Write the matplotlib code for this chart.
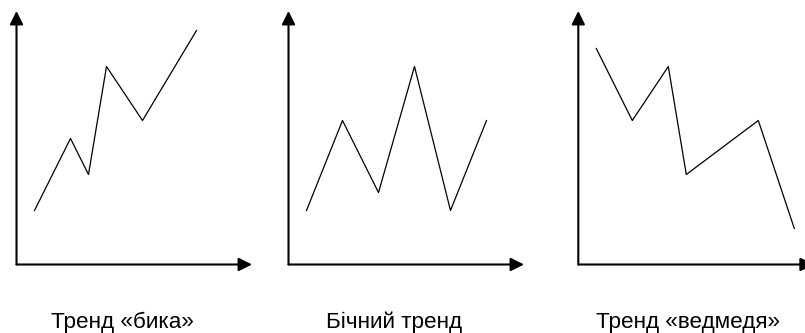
import matplotlib
matplotlib.use('Agg')
import matplotlib.pyplot as plt

plt.rcParams['font.family'] = ['Liberation Sans', 'DejaVu Sans']

# три схеми трендів: x і y в умовних одиницях
bull_x = [1, 3, 4, 5, 7, 10]
bull_y = [3, 7, 5, 11, 8, 13]
side_x = [1, 3, 5, 7, 9, 11]
side_y = [3, 8, 4, 11, 3, 8]
bear_x = [1, 3, 5, 6, 10, 12]
bear_y = [12, 8, 11, 5, 8, 2]
titles = ['Тренд «бика»', 'Бічний тренд', 'Тренд «ведмедя»']

W, H = 805, 333
fig = plt.figure(figsize=(W / 100, H / 100), dpi=100)

# ліві краї осей (пікселі) і центри підписів
lefts = [16.5, 288.5, 578.3]
label_x = [122, 394, 688]
axis_y = 264.5
x_len, y_len = 235.5, 253.5
unit = 18.0

series = [(bull_x, bull_y), (side_x, side_y), (bear_x, bear_y)]

for i, (xs, ys) in enumerate(series):
    ax = fig.add_axes([lefts[i] / W, (H - axis_y) / H, x_len / W, y_len / H])
    ax.set_xlim(0, x_len / unit)
    ax.set_ylim(0, y_len / unit)
    ax.axis('off')
    ax.plot(xs, ys, color='black', lw=0.9, clip_on=False)
    arrow = dict(arrowstyle='-|>,head_length=0.8,head_width=0.4',
                 color='black', lw=1.5, shrinkA=0, shrinkB=0)
    ax.annotate('', xy=(1, 0), xytext=(0, 0), xycoords='axes fraction',
                arrowprops=arrow, annotation_clip=False)
    ax.annotate('', xy=(0, 1), xytext=(0, 0), xycoords='axes fraction',
                arrowprops=arrow, annotation_clip=False)
    fig.text(label_x[i] / W, 1 - 328 / H, titles[i], ha='center',
             va='baseline', fontsize=16.2)

plt.savefig('out.png', dpi=100)
